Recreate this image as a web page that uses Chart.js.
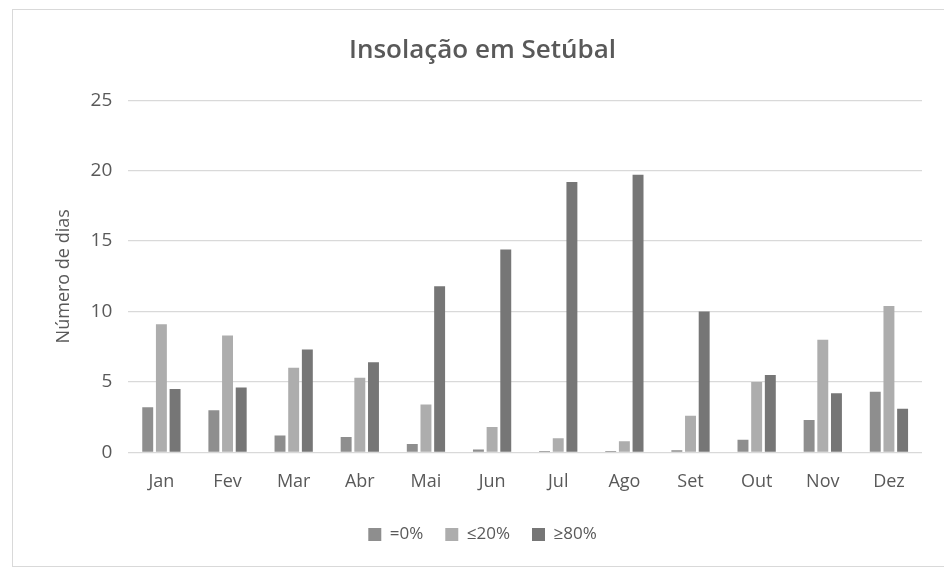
<!DOCTYPE html>
<html>
<head>
<meta charset="utf-8">
<script src="https://cdn.jsdelivr.net/npm/chart.js@4"></script>
<style>
  body { margin: 0; background: #fff; }
  #frame {
    position: absolute; left: 12px; top: 9px;
    width: 940px; height: 556px;
    border: 1px solid #d9d9d9; background: #fff;
  }
</style>
</head>
<body>
<div id="frame"><canvas id="chart" width="940" height="556"></canvas></div>
<script>
const months = ["Jan", "Fev", "Mar", "Abr", "Mai", "Jun", "Jul", "Ago", "Set", "Out", "Nov", "Dez"];
const zeroPct = [3.2, 3.0, 1.2, 1.1, 0.6, 0.2, 0.1, 0.1, 0.15, 0.9, 2.3, 4.3];
const upTo20 = [9.1, 8.3, 6.0, 5.3, 3.4, 1.8, 1.0, 0.8, 2.6, 5.0, 8.0, 10.4];
const over80 = [4.5, 4.6, 7.3, 6.4, 11.8, 14.4, 19.2, 19.7, 10.0, 5.5, 4.2, 3.1];
const seriesNames = ["=0%", "≤20%", "≥80%"];

const font = "'Open Sans', 'Noto Sans', sans-serif";
const textColor = "#595959";

new Chart(document.getElementById("chart"), {
  type: "bar",
  data: {
    labels: months,
    datasets: [
      { label: seriesNames[0], data: zeroPct, backgroundColor: "#8e8e8e" },
      { label: seriesNames[1], data: upTo20, backgroundColor: "#adadad" },
      { label: seriesNames[2], data: over80, backgroundColor: "#767676" },
    ],
  },
  options: {
    responsive: false,
    animation: false,
    datasets: { bar: { categoryPercentage: 0.62, barPercentage: 0.8 } },
    layout: { padding: { left: 30, right: 31, top: 12, bottom: 13 } },
    plugins: {
      title: {
        display: true,
        text: "Insolação em Setúbal",
        color: textColor,
        font: { family: font, size: 26, weight: "600" },
        padding: { top: 13, bottom: 34 },
      },
      legend: {
        position: "bottom",
        labels: {
          color: textColor,
          font: { family: font, size: 17 },
          boxWidth: 13,
          boxHeight: 13,
          padding: 22,
        },
      },
      tooltip: { enabled: false },
    },
    scales: {
      x: {
        grid: { display: false },
        border: { display: false },
        ticks: { color: textColor, font: { family: font, size: 18 }, padding: 11 },
      },
      y: {
        min: 0,
        max: 25,
        ticks: { stepSize: 5, color: textColor, font: { family: font, size: 19 }, padding: 16 },
        grid: { color: "#d9d9d9", lineWidth: 1.2, drawTicks: false },
        border: { display: false },
        title: {
          display: true,
          text: "Número de dias",
          color: textColor,
          font: { family: font, size: 18 },
          padding: { top: 10, bottom: 0 },
        },
      },
    },
  },
});
</script>
</body>
</html>
